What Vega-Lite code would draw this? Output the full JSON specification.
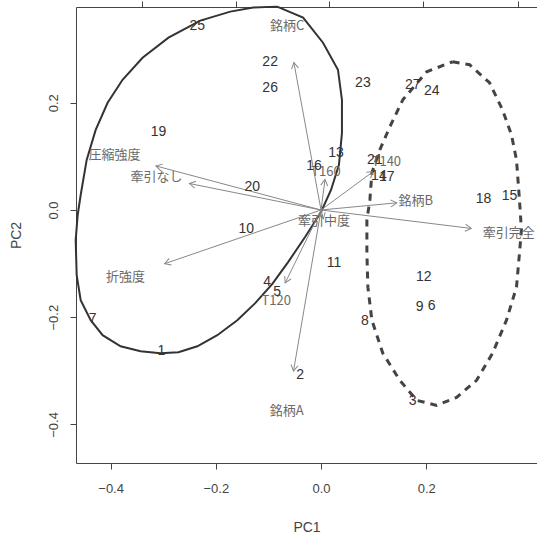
{
  "$schema": "https://vega.github.io/schema/vega-lite/v6.json",
  "autosize": "none",
  "width": 461,
  "height": 456,
  "padding": {"left": 76, "top": 7, "right": 0, "bottom": 72},
  "background": "white",
  "config": {
    "view": {"stroke": null},
    "axis": {
      "grid": false,
      "domainColor": "#444",
      "tickColor": "#444",
      "tickSize": 6,
      "labelColor": "#444",
      "labelFont": "Liberation Sans",
      "labelFontSize": 13,
      "titleFont": "Liberation Sans",
      "titleFontSize": 14,
      "titleFontWeight": "normal",
      "titleColor": "#444",
      "labelFlush": false,
      "labelOverlap": false
    }
  },
  "datasets": {
    "ell1": [
      {"i": 1, "x": -0.0834, "y": 0.3794}, {"i": 2, "x": -0.0341, "y": 0.3589}, {"i": 3, "x": 0.0038, "y": 0.3121},
      {"i": 4, "x": 0.0322, "y": 0.2617}, {"i": 5, "x": 0.0398, "y": 0.2056}, {"i": 6, "x": 0.0398, "y": 0.1439},
      {"i": 7, "x": 0.0341, "y": 0.0841}, {"i": 8, "x": 0.019, "y": 0.0374}, {"i": 9, "x": 0.0, "y": -0.0037},
      {"i": 10, "x": -0.0303, "y": -0.0505}, {"i": 11, "x": -0.0626, "y": -0.0972}, {"i": 12, "x": -0.0929, "y": -0.1383},
      {"i": 13, "x": -0.1251, "y": -0.1738}, {"i": 14, "x": -0.1592, "y": -0.2056}, {"i": 15, "x": -0.1972, "y": -0.2336},
      {"i": 16, "x": -0.2351, "y": -0.2542}, {"i": 17, "x": -0.2711, "y": -0.2654}, {"i": 18, "x": -0.3052, "y": -0.2673},
      {"i": 19, "x": -0.3431, "y": -0.2636}, {"i": 20, "x": -0.381, "y": -0.2542}, {"i": 21, "x": -0.4152, "y": -0.2336},
      {"i": 22, "x": -0.4379, "y": -0.2056}, {"i": 23, "x": -0.4569, "y": -0.1682}, {"i": 24, "x": -0.4645, "y": -0.1215},
      {"i": 25, "x": -0.4664, "y": -0.0561}, {"i": 26, "x": -0.4626, "y": -0.0093}, {"i": 27, "x": -0.4569, "y": 0.028},
      {"i": 28, "x": -0.4455, "y": 0.0935}, {"i": 29, "x": -0.4284, "y": 0.1495}, {"i": 30, "x": -0.4057, "y": 0.2},
      {"i": 31, "x": -0.3773, "y": 0.243}, {"i": 32, "x": -0.3393, "y": 0.2841}, {"i": 33, "x": -0.29, "y": 0.3215},
      {"i": 34, "x": -0.2294, "y": 0.3533}, {"i": 35, "x": -0.1725, "y": 0.3701}, {"i": 36, "x": -0.1289, "y": 0.3776},
      {"i": 37, "x": -0.0834, "y": 0.3794}
    ],
    "ell2": [
      {"i": 1, "x": 0.2502, "y": 0.2766}, {"i": 2, "x": 0.2825, "y": 0.271}, {"i": 3, "x": 0.3204, "y": 0.2374},
      {"i": 4, "x": 0.345, "y": 0.1869}, {"i": 5, "x": 0.3621, "y": 0.1402}, {"i": 6, "x": 0.3716, "y": 0.0935},
      {"i": 7, "x": 0.3773, "y": 0.0187}, {"i": 8, "x": 0.381, "y": -0.0374}, {"i": 9, "x": 0.3773, "y": -0.0804},
      {"i": 10, "x": 0.3716, "y": -0.1439}, {"i": 11, "x": 0.3526, "y": -0.2056}, {"i": 12, "x": 0.3261, "y": -0.2673},
      {"i": 13, "x": 0.2957, "y": -0.3178}, {"i": 14, "x": 0.2578, "y": -0.3495}, {"i": 15, "x": 0.2199, "y": -0.3645},
      {"i": 16, "x": 0.182, "y": -0.3551}, {"i": 17, "x": 0.1498, "y": -0.3178}, {"i": 18, "x": 0.1175, "y": -0.2673},
      {"i": 19, "x": 0.0967, "y": -0.2056}, {"i": 20, "x": 0.0891, "y": -0.1439}, {"i": 21, "x": 0.0872, "y": -0.0804},
      {"i": 22, "x": 0.0872, "y": -0.0187}, {"i": 23, "x": 0.0929, "y": 0.0187}, {"i": 24, "x": 0.0967, "y": 0.0692},
      {"i": 25, "x": 0.1118, "y": 0.1121}, {"i": 26, "x": 0.1308, "y": 0.1551}, {"i": 27, "x": 0.1555, "y": 0.2056},
      {"i": 28, "x": 0.2009, "y": 0.2579}, {"i": 29, "x": 0.2502, "y": 0.2766}
    ],
    "obs": [
      {"lab": "1", "x": -0.3033, "y": -0.2636}, {"lab": "2", "x": -0.0398, "y": -0.3084},
      {"lab": "3", "x": 0.1744, "y": -0.357}, {"lab": "4", "x": -0.1024, "y": -0.1346},
      {"lab": "5", "x": -0.0834, "y": -0.1533}, {"lab": "6", "x": 0.2104, "y": -0.1794},
      {"lab": "7", "x": -0.4341, "y": -0.2037}, {"lab": "8", "x": 0.0834, "y": -0.2075},
      {"lab": "9", "x": 0.1877, "y": -0.1813}, {"lab": "10", "x": -0.1422, "y": -0.0355},
      {"lab": "11", "x": 0.0246, "y": -0.0991}, {"lab": "12", "x": 0.1953, "y": -0.1252},
      {"lab": "13", "x": 0.0284, "y": 0.1065}, {"lab": "14", "x": 0.11, "y": 0.0636},
      {"lab": "15", "x": 0.3583, "y": 0.0262}, {"lab": "16", "x": -0.0133, "y": 0.0822},
      {"lab": "17", "x": 0.1251, "y": 0.0617}, {"lab": "18", "x": 0.309, "y": 0.0206},
      {"lab": "19", "x": -0.309, "y": 0.1458}, {"lab": "20", "x": -0.1308, "y": 0.043},
      {"lab": "21", "x": 0.1024, "y": 0.0935}, {"lab": "22", "x": -0.0967, "y": 0.2766},
      {"lab": "23", "x": 0.0796, "y": 0.2374}, {"lab": "24", "x": 0.2104, "y": 0.2224},
      {"lab": "25", "x": -0.2351, "y": 0.3439}, {"lab": "26", "x": -0.0967, "y": 0.228},
      {"lab": "27", "x": 0.1744, "y": 0.2336}
    ],
    "vars": [
      {"lab": "銘柄A", "lx": -0.0654, "ly": -0.3757, "ax": -0.0523, "ay": -0.3006},
      {"lab": "銘柄B", "lx": 0.1801, "ly": 0.0168, "ax": 0.1441, "ay": 0.0134},
      {"lab": "銘柄C", "lx": -0.0645, "ly": 0.3439, "ax": -0.0516, "ay": 0.2751},
      {"lab": "圧縮強度", "lx": -0.3924, "ly": 0.1028, "ax": -0.3139, "ay": 0.0822},
      {"lab": "牽引なし", "lx": -0.3128, "ly": 0.0617, "ax": -0.2502, "ay": 0.0494},
      {"lab": "牽引中度", "lx": 0.0057, "ly": -0.0206, "ax": 0.0046, "ay": -0.0165},
      {"lab": "牽引完全", "lx": 0.357, "ly": -0.043, "ax": 0.2856, "ay": -0.0344},
      {"lab": "折強度", "lx": -0.3716, "ly": -0.1252, "ax": -0.2973, "ay": -0.1002},
      {"lab": "T120", "lx": -0.0853, "ly": -0.1701, "ax": -0.0682, "ay": -0.1361},
      {"lab": "T140", "lx": 0.1242, "ly": 0.0897, "ax": 0.0994, "ay": 0.0718},
      {"lab": "T160", "lx": 0.0095, "ly": 0.071, "ax": 0.0076, "ay": 0.0568}
    ]
  },
  "resolve": {"axis": {"x": "independent", "y": "independent"}},
  "layer": [
    {
      "data": {"name": "ell1"},
      "mark": {"type": "line", "color": "#333", "strokeWidth": 2},
      "encoding": {
        "x": {"field": "x", "type": "quantitative", "scale": {"domain": [-0.4658, 0.4106], "nice": false, "zero": false},
              "axis": {"orient": "bottom", "title": "PC1", "values": [-0.4, -0.2, 0, 0.2], "format": ".1f", "labelPadding": 13, "titlePadding": 25}},
        "y": {"field": "y", "type": "quantitative", "scale": {"domain": [-0.472, 0.3787], "nice": false, "zero": false},
              "axis": {"orient": "left", "title": "PC2", "values": [-0.4, -0.2, 0, 0.2], "format": ".1f", "labelAngle": -90, "labelAlign": "center", "labelBaseline": "bottom", "labelPadding": 10, "titlePadding": 24}},
        "order": {"field": "i", "type": "quantitative"}
      }
    },
    {
      "data": {"name": "ell2"},
      "mark": {"type": "line", "color": "#444", "strokeWidth": 3, "strokeDash": [7, 6]},
      "encoding": {
        "x": {"field": "x", "type": "quantitative",
              "axis": {"orient": "top", "title": null, "labels": false, "values": [-0.3403, -0.1616, 0.0152, 0.1939, 0.3745]}},
        "y": {"field": "y", "type": "quantitative", "axis": null},
        "order": {"field": "i", "type": "quantitative"}
      }
    },
    {
      "data": {"name": "vars"},
      "mark": {"type": "rule", "color": "#888", "strokeWidth": 1},
      "encoding": {
        "x": {"field": "ax", "type": "quantitative", "axis": null},
        "y": {"field": "ay", "type": "quantitative", "axis": null},
        "x2": {"datum": 0},
        "y2": {"datum": 0}
      }
    },
    {
      "data": {"name": "vars"},
      "transform": [{"calculate": "atan2(datum.ax * 526, datum.ay * 536) * 180 / PI", "as": "ang"}],
      "mark": {"type": "point", "shape": "M-0.5,0.87L0,0L0.5,0.87", "filled": false, "stroke": "#888", "strokeWidth": 1, "size": 196, "opacity": 1},
      "encoding": {
        "x": {"field": "ax", "type": "quantitative", "axis": null},
        "y": {"field": "ay", "type": "quantitative", "axis": null},
        "angle": {"field": "ang", "type": "quantitative", "scale": null}
      }
    },
    {
      "data": {"name": "vars"},
      "mark": {"type": "text", "font": "Noto Sans CJK JP", "fontSize": 13, "color": "#6a6a6a", "align": "center", "baseline": "middle"},
      "encoding": {
        "x": {"field": "lx", "type": "quantitative", "axis": null},
        "y": {"field": "ly", "type": "quantitative", "axis": null},
        "text": {"field": "lab"}
      }
    },
    {
      "data": {"name": "obs"},
      "mark": {"type": "text", "font": "Liberation Sans", "fontSize": 14, "color": "#333", "align": "center", "baseline": "middle"},
      "encoding": {
        "x": {"field": "x", "type": "quantitative", "axis": null},
        "y": {"field": "y", "type": "quantitative", "axis": null},
        "text": {"field": "lab"}
      }
    }
  ]
}
